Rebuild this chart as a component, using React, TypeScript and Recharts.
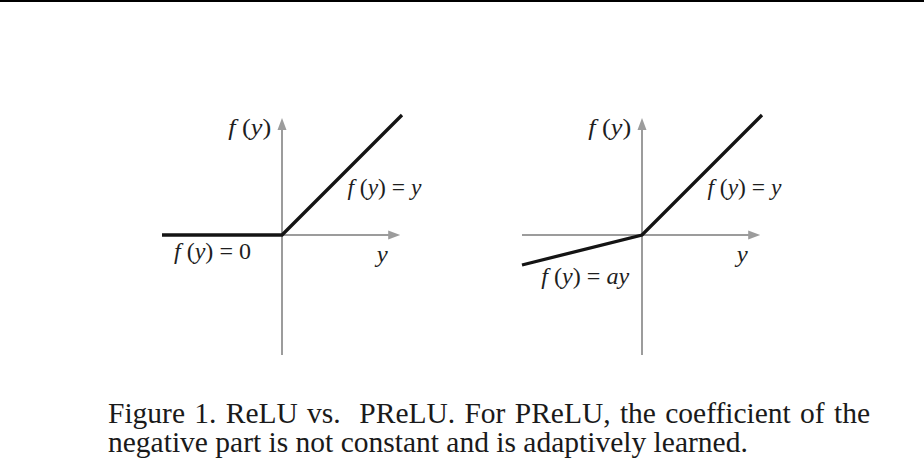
import React from "react";
import { LineChart, Line, XAxis, YAxis, ReferenceLine, ReferenceDot } from "recharts";

// input y and output f(y) for the two activations
const inputs = [-1, 0, 1];
const reluOut = [0, 0, 1];
const preluOut = [-0.25, 0, 1];

const domain: [number, number] = [-1, 1];
const axisTip = 0.985;

const captionLines = [
  "Figure 1. ReLU vs.\u00a0 PReLU. For PReLU, the coefficient of the",
  "negative part is not constant and is adaptively learned.",
];

const GREY = "#9c9c9c";
const INK = "#141414";
const SERIF = "'Liberation Serif', 'Times New Roman', Times, serif";

const W = 360;
const H = 300;
const MARGIN = { top: 15, right: 60, bottom: 45, left: 60 };

function AxisArrow(props: any) {
  const { x1, y1, x2, y2 } = props;
  const ang = Math.atan2(y2 - y1, x2 - x1);
  const len = 12;
  const half = 4.5;
  const c = Math.cos(ang);
  const s = Math.sin(ang);
  const bx = x2 - len * c;
  const by = y2 - len * s;
  const pts = `${x2},${y2} ${bx - half * s},${by + half * c} ${bx + half * s},${by - half * c}`;
  return (
    <g>
      <line x1={x1} y1={y1} x2={bx + c} y2={by + s} stroke={GREY} strokeWidth={2} />
      <polygon points={pts} fill={GREY} />
    </g>
  );
}

// f(y) = ... style label with italic symbols
function mathLabel(parts: Array<[string, boolean]>, length: number, anchor: "start" | "end" = "start") {
  return (p: any) => (
    <text
      x={p.cx}
      y={p.cy}
      fontSize={23}
      fill="#1e1e1e"
      textAnchor={anchor}
      textLength={length}
      lengthAdjust="spacingAndGlyphs"
      style={{ whiteSpace: "pre", fontFamily: SERIF }}
    >
      {parts.map(([t, it], i) => (
        <tspan key={i} fontStyle={it ? "italic" : "normal"}>
          {t}
        </tspan>
      ))}
    </text>
  );
}

const fy: Array<[string, boolean]> = [
  ["f", true],
  [" (", false],
  ["y", true],
  [")", false],
];

function Panel({ outputs, negLabel, negAt, negWidth }: {
  outputs: number[];
  negLabel: Array<[string, boolean]>;
  negAt: [number, number];
  negWidth: number;
}) {
  const data = inputs.map((v, i) => ({ input: v, output: outputs[i] }));
  return (
    <LineChart width={W} height={H} data={data} margin={MARGIN}>
      <XAxis type="number" dataKey="input" domain={domain} hide />
      <YAxis type="number" domain={domain} hide />
      <ReferenceLine
        segment={[{ x: -1, y: 0 }, { x: axisTip, y: 0 }]}
        shape={AxisArrow}
      />
      <ReferenceLine
        segment={[{ x: 0, y: -1 }, { x: 0, y: 0.975 }]}
        shape={AxisArrow}
      />
      <Line
        type="linear"
        dataKey="output"
        stroke={INK}
        strokeWidth={3.3}
        dot={false}
        isAnimationActive={false}
      />
      <ReferenceDot x={-0.09} y={0.833} ifOverflow="visible" shape={mathLabel(fy, 43, "end")} />
      <ReferenceDot
        x={0.545}
        y={0.333}
        ifOverflow="visible"
        shape={mathLabel([...fy, [" = ", false], ["y", true]], 74)}
      />
      <ReferenceDot x={negAt[0]} y={negAt[1]} ifOverflow="visible" shape={mathLabel(negLabel, negWidth)} />
      <ReferenceDot x={0.79} y={-0.225} ifOverflow="visible" shape={mathLabel([["y", true]], 11)} />
    </LineChart>
  );
}

export default function App() {
  const captionStyle: React.CSSProperties = {
    position: "absolute",
    left: 108,
    fontFamily: SERIF,
    fontSize: 29.5,
    lineHeight: "29px",
    color: "#1a1a1a",
    whiteSpace: "pre",
  };
  return (
    <div
      style={{
        position: "fixed",
        left: 0,
        top: 0,
        width: 924,
        height: 468,
        background: "#fff",
        overflow: "hidden",
      }}
    >
      <div style={{ position: "absolute", left: 0, top: 0, width: 924, height: 2, background: "#000" }} />
      <div style={{ position: "absolute", left: 102, top: 100 }}>
        <Panel
          outputs={reluOut}
          negLabel={[...fy, [" = ", false], ["0", false]]}
          negAt={[-0.9, -0.2]}
          negWidth={77}
        />
      </div>
      <div style={{ position: "absolute", left: 462, top: 100 }}>
        <Panel
          outputs={preluOut}
          negLabel={[...fy, [" = ", false], ["ay", true]]}
          negAt={[-0.84, -0.41]}
          negWidth={88}
        />
      </div>
      <div
        style={{
          ...captionStyle,
          top: 399,
          width: 762,
          whiteSpace: "normal",
          textAlign: "justify",
          textAlignLast: "justify",
        }}
      >
        {captionLines[0]}
      </div>
      <div style={{ ...captionStyle, top: 428 }}>{captionLines[1]}</div>
    </div>
  );
}
